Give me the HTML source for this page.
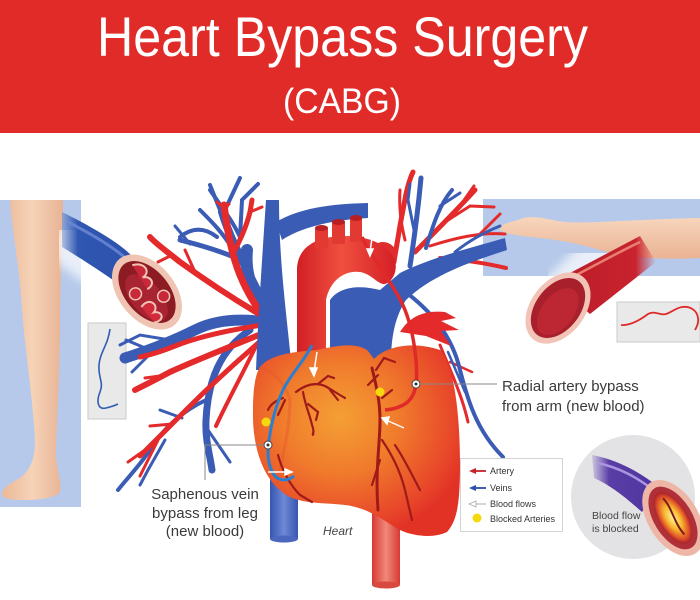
<!DOCTYPE html>
<html><head><meta charset="utf-8"><style>
html,body{margin:0;padding:0;background:#fff;}
svg{display:block;}
text{font-family:"Liberation Sans",sans-serif;}
</style></head><body>
<svg width="700" height="600" viewBox="0 0 700 600" xmlns="http://www.w3.org/2000/svg">
<defs>
<radialGradient id="heartG" cx="0.42" cy="0.38" r="0.65">
<stop offset="0" stop-color="#f4a034"/>
<stop offset="0.45" stop-color="#f07a2c"/>
<stop offset="0.85" stop-color="#e8472a"/>
<stop offset="1" stop-color="#e23226"/>
</radialGradient>
<linearGradient id="aortaG" x1="0" y1="0" x2="1" y2="0">
<stop offset="0" stop-color="#d21f25"/>
<stop offset="0.45" stop-color="#f0503f"/>
<stop offset="1" stop-color="#d41f26"/>
</linearGradient>
<linearGradient id="ivcG" x1="0" y1="0" x2="1" y2="0">
<stop offset="0" stop-color="#3555b0"/>
<stop offset="0.5" stop-color="#6f88d6"/>
<stop offset="1" stop-color="#3555b0"/>
</linearGradient>
<linearGradient id="daG" x1="0" y1="0" x2="1" y2="0">
<stop offset="0" stop-color="#d63a33"/>
<stop offset="0.5" stop-color="#f1897a"/>
<stop offset="1" stop-color="#d63a33"/>
</linearGradient>
<linearGradient id="legG" x1="0" y1="0" x2="1" y2="0">
<stop offset="0" stop-color="#ecb898"/>
<stop offset="0.5" stop-color="#f6d3b8"/>
<stop offset="1" stop-color="#e8b394"/>
</linearGradient>
<linearGradient id="armG" x1="0" y1="0" x2="0" y2="1">
<stop offset="0" stop-color="#f7d6bd"/>
<stop offset="1" stop-color="#eab293"/>
</linearGradient>
<linearGradient id="artTubeG" x1="0" y1="0" x2="1" y2="0">
<stop offset="0" stop-color="#b81c28"/>
<stop offset="0.8" stop-color="#c8232e"/>
<stop offset="1" stop-color="#c8232e" stop-opacity="0"/>
</linearGradient>
<linearGradient id="veinTubeG" x1="0" y1="0" x2="1" y2="0">
<stop offset="0" stop-color="#2f56b1" stop-opacity="0.3"/>
<stop offset="0.15" stop-color="#2f56b1"/>
<stop offset="1" stop-color="#2a4fa8"/>
</linearGradient>
<radialGradient id="blockG" cx="0.5" cy="0.5" r="0.5">
<stop offset="0" stop-color="#fff3a0"/>
<stop offset="0.45" stop-color="#f7b92e"/>
<stop offset="0.8" stop-color="#e2542a"/>
<stop offset="1" stop-color="#a8202a"/>
</radialGradient>
<linearGradient id="purpG" x1="0" y1="0" x2="1" y2="0">
<stop offset="0" stop-color="#6a4db5" stop-opacity="0.2"/>
<stop offset="0.25" stop-color="#5a3ea6"/>
<stop offset="1" stop-color="#4f34a0"/>
</linearGradient>
<filter id="blur3" x="-30%" y="-30%" width="160%" height="160%"><feGaussianBlur stdDeviation="5"/></filter>
</defs>

<!-- banner -->
<rect x="0" y="0" width="700" height="133" fill="#e12b29"/>
<text x="97" y="56" font-size="56" fill="#fff" textLength="491" lengthAdjust="spacingAndGlyphs">Heart Bypass Surgery</text>
<text x="283" y="113" font-size="35" fill="#fff" textLength="118" lengthAdjust="spacingAndGlyphs">(CABG)</text>

<!-- LEFT PANEL -->
<rect x="0" y="200" width="81" height="307" fill="#b6c9ea"/>
<path d="M10 200 L63 200 C62 250 60 290 60 320 C60 360 58 400 56 448 C55 465 62 480 60 492 C55 500 20 502 5 498 C-2 494 4 486 20 478 C30 470 35 460 35 440 C33 400 25 350 22 310 C20 270 12 230 10 200 Z" fill="url(#legG)"/>
<!-- vein tube -->
<path d="M80 245 L150 295" stroke="#fff" stroke-width="56" stroke-linecap="round" opacity="0.7" filter="url(#blur3)"/>
<path d="M62 212 C90 226 115 240 130 254 L170 318 C140 300 110 276 62 247 Z" fill="url(#veinTubeG)"/>
<path d="M68 222 C95 236 115 248 130 262" stroke="#6e8bd8" stroke-width="3" fill="none" opacity="0.8"/>
<g transform="translate(147,292) rotate(50)">
<ellipse rx="43" ry="28" fill="#f0c4b2"/>
<ellipse rx="36" ry="22" fill="#8c1b24"/>
<ellipse cx="4" cy="4" rx="28" ry="15" fill="#a92433"/>
<path d="M-30 -6 C-25 -18 -12 -16 -14 -6 C-10 -14 0 -12 -2 -2" stroke="#f0c4b2" stroke-width="2" fill="#c8283a"/>
<path d="M8 14 C4 2 18 -2 20 8 C24 0 34 4 28 14" stroke="#f0c4b2" stroke-width="2" fill="#d12a3a"/>
<circle cx="-6" cy="10" r="6" fill="#c8283a" stroke="#f0c4b2" stroke-width="1.5"/>
<circle cx="14" cy="-10" r="6" fill="#c8283a" stroke="#f0c4b2" stroke-width="1.5"/>
</g>
<rect x="88" y="323" width="38" height="96" fill="#e9e9e9" stroke="#cacaca"/>
<path d="M110 329 C108 345 100 352 99 365 C98 378 104 382 100 392 C96 402 98 410 106 408 C110 407 114 406 118 404" stroke="#2f5db5" stroke-width="1.6" fill="none"/>

<!-- RIGHT PANEL -->
<rect x="483" y="199" width="217" height="77" fill="#b6c9ea"/>
<path d="M500 227 C505 222 515 222 523 218 C535 215 550 220 565 222 C590 224 640 219 700 218 L700 258 C660 260 630 258 600 250 C580 244 560 240 540 238 C520 236 505 234 500 230 Z" fill="url(#armG)"/>
<path d="M600 265 L560 305" stroke="#fff" stroke-width="56" stroke-linecap="round" opacity="0.7" filter="url(#blur3)"/>
<path d="M553 282 L640 236 L656 262 L590 314 Z" fill="url(#artTubeG)"/>
<path d="M565 281 C590 268 615 254 640 242" stroke="#ec8878" stroke-width="2.5" fill="none" opacity="0.9"/>
<g transform="translate(558,308) rotate(-52)">
<ellipse rx="40" ry="27" fill="#f2c3b7"/>
<ellipse rx="34" ry="22" fill="#a8202b"/>
<ellipse cx="-3" cy="2" rx="27" ry="16" fill="#bd2733"/>
</g>
<rect x="617" y="302" width="83" height="40" fill="#e9e9e9" stroke="#cacaca"/>
<path d="M621 325 C630 326 640 320 648 314 C655 310 660 316 666 314 C672 312 676 308 682 307 C690 306 697 310 698 318 C699 324 696 328 695 330" stroke="#e02a2a" stroke-width="1.8" fill="none"/>

<!-- blocked circle -->
<circle cx="633" cy="497" r="62" fill="#e3e3e5"/>
<path d="M592 455 C618 460 640 472 660 488 L642 512 C626 498 612 486 594 478 Z" fill="url(#purpG)"/>
<path d="M598 463 C620 468 636 477 652 489" stroke="#a996e0" stroke-width="2.5" fill="none"/>
<g transform="translate(673,518) rotate(58)">
<ellipse rx="42" ry="25" fill="#eeb6a6"/>
<ellipse rx="35" ry="19" fill="#b0303a"/>
<ellipse rx="29" ry="14" fill="url(#blockG)"/>
<path d="M-22 -2 C-10 -5 5 2 20 -1" stroke="#7a1a1a" stroke-width="2" fill="none"/>
</g>
<text x="592" y="519" font-size="10.5" fill="#444">Blood flow</text>
<text x="592" y="532" font-size="10.5" fill="#444">is blocked</text>

<!-- LEFT TREE : blue -->
<g stroke="#3a5cb4" fill="none" stroke-linecap="round">
<path d="M262 300 C248 270 232 245 222 212" stroke-width="8"/>
<path d="M222 215 L210 185" stroke-width="4"/>
<path d="M224 212 L240 178" stroke-width="4"/>
<path d="M240 238 L242 200 L258 184" stroke-width="4"/>
<path d="M240 237 C232 220 225 212 210 190" stroke-width="4"/>
<path d="M232 248 C222 232 212 222 200 210" stroke-width="4"/>
<path d="M217 237 C208 230 195 225 180 237" stroke-width="4"/>
<path d="M245 262 C225 252 200 245 180 240" stroke-width="5"/>
<path d="M190 244 L175 226" stroke-width="3"/>
<path d="M265 322 C238 318 215 320 195 330 C175 340 150 350 125 358" stroke-width="11"/>
<path d="M150 350 L126 340" stroke-width="3"/>
<path d="M170 340 L140 335 L120 345" stroke-width="3"/>
<path d="M158 346 L132 372" stroke-width="3"/>
<path d="M250 330 C220 350 208 380 206 420 C205 440 210 455 212 470" stroke-width="7"/>
<path d="M206 400 C185 410 165 425 150 450 C140 465 130 475 118 490" stroke-width="4"/>
<path d="M182 418 L160 410" stroke-width="3"/>
<path d="M208 430 L230 462" stroke-width="3"/>
<path d="M165 440 L148 470 L140 485" stroke-width="3"/>
<path d="M258 300 C250 285 245 270 247 250" stroke-width="12"/>
</g>
<!-- LEFT TREE : red -->
<g stroke="#e42a2b" fill="none" stroke-linecap="round">
<path d="M268 322 C250 300 238 275 232 250 C228 235 226 220 224 205" stroke-width="7"/>
<path d="M224 208 L217 202" stroke-width="3"/>
<path d="M225 208 L229 204" stroke-width="3"/>
<path d="M234 252 C240 240 246 228 250 212 L252 200" stroke-width="5"/>
<path d="M250 212 L262 207" stroke-width="3"/>
<path d="M266 318 C235 300 205 280 180 262 C165 250 155 243 150 237" stroke-width="6"/>
<path d="M195 272 L185 250" stroke-width="3"/>
<path d="M172 255 L158 262" stroke-width="3"/>
<path d="M262 325 C230 330 200 336 175 346 C160 352 150 355 140 357" stroke-width="5"/>
<path d="M266 332 C232 346 196 360 170 372 C155 380 145 385 135 390" stroke-width="6"/>
<path d="M160 376 L145 378" stroke-width="3"/>
<path d="M264 338 C236 362 210 386 186 410 C170 426 156 440 140 456" stroke-width="5"/>
<path d="M172 424 L150 426" stroke-width="3"/>
<path d="M160 436 L140 476" stroke-width="3"/>
<path d="M145 450 L128 462" stroke-width="3"/>
<path d="M256 346 C242 375 228 400 216 426" stroke-width="4"/>
</g>

<!-- RIGHT TREE -->
<g stroke="#e42a2b" fill="none" stroke-linecap="round">
<path d="M394 262 C398 236 402 214 406 194 C408 185 410 178 413 172" stroke-width="5"/>
<path d="M405 240 C400 220 399 205 400 190" stroke-width="3"/>
<path d="M415 252 C435 232 455 212 475 190" stroke-width="5"/>
<path d="M445 222 L470 206 L494 207" stroke-width="3"/>
<path d="M460 206 L474 186" stroke-width="3"/>
<path d="M430 246 C455 238 480 232 505 234" stroke-width="3"/>
<path d="M480 234 L500 214" stroke-width="3"/>
<path d="M440 258 C465 260 485 263 506 268" stroke-width="4"/>
<path d="M440 345 C450 370 462 395 468 422" stroke-width="3"/>
<path d="M450 362 L472 372" stroke-width="2.5"/>
</g>
<g stroke="#3a5cb4" fill="none" stroke-linecap="round">
<path d="M410 266 C414 240 418 210 421 178" stroke-width="5"/>
<path d="M414 230 L408 200 L410 184" stroke-width="3"/>
<path d="M426 248 C434 222 440 204 452 190" stroke-width="4"/>
<path d="M440 206 L460 193" stroke-width="3"/>
<path d="M455 252 C470 240 485 232 500 226" stroke-width="3"/>
<path d="M403 290 C430 310 452 335 460 370 C468 400 476 430 503 457" stroke-width="4"/>
<path d="M448 352 L465 392" stroke-width="2.5"/>
</g>
<path d="M400 332 C410 316 425 310 445 312 L456 318 L441 321 L459 330 L441 331 L451 346 L426 336 Z" fill="#e42a2b"/>

<!-- pulmonary trunk & right branch -->
<path d="M330 362 L330 300 C340 286 360 285 380 290 L400 273 C430 258 470 248 505 238 L507 250 C470 262 432 275 406 300 C396 315 391 335 391 362 Z" fill="#3a5cb4"/>
<!-- SVC -->
<path d="M266 200 L279 200 C279 260 286 310 292 370 L256 370 C258 320 262 260 266 200 Z" fill="#3a5cb4"/>
<path d="M276 222 C300 208 330 204 368 203 L368 218 C330 220 300 228 282 240 Z" fill="#3a5cb4"/>

<!-- IVC & descending aorta below heart -->
<rect x="270" y="455" width="28" height="84" fill="url(#ivcG)"/>
<ellipse cx="284" cy="539" rx="14" ry="3.5" fill="#4b66bd"/>
<rect x="372" y="505" width="28" height="80" fill="url(#daG)"/>
<ellipse cx="386" cy="585" rx="14" ry="3.5" fill="#d84a3f"/>

<!-- aorta -->
<circle cx="383" cy="256" r="14" fill="#e12d2d"/>
<path d="M297 365 L297 270 C297 248 315 236 345 236 C368 236 388 244 395 260 C398 272 392 282 385 284 C378 285 372 274 360 272 C345 270 330 280 326 300 L326 365 Z" fill="url(#aortaG)"/>
<g fill="#e23a33">
<rect x="315" y="228" width="13" height="20"/><ellipse cx="321.5" cy="228" rx="6.5" ry="3" fill="#b81e22"/>
<rect x="332" y="222" width="13" height="22"/><ellipse cx="338.5" cy="222" rx="6.5" ry="3" fill="#b81e22"/>
<rect x="350" y="218" width="12" height="24"/><ellipse cx="356" cy="218" rx="6" ry="3" fill="#b81e22"/>
</g>

<!-- heart -->
<path d="M260 367 C270 355 290 352 317 350 C335 346 355 342 367 350 C372 355 373 360 375 358 C385 348 410 340 440 350 C455 365 460 420 460 463 C460 500 458 520 447 532 C435 538 415 537 400 530 C385 522 370 508 345 505 C320 502 295 505 280 490 C262 475 252 445 253 410 C253 390 255 375 260 367 Z" fill="url(#heartG)"/>
<path d="M262 368 C275 372 285 385 290 400 C290 430 282 460 276 485" stroke="#e6552a" stroke-width="3" fill="none" opacity="0.4"/>

<!-- coronary branches -->
<g stroke="#a11a1a" fill="none" stroke-linecap="round" stroke-width="2.2">
<path d="M296 392 C305 385 315 382 325 386 C332 390 338 394 345 398"/>
<path d="M318 384 L328 376 L334 378"/>
<path d="M330 390 L338 400"/>
<path d="M303 392 C305 405 310 415 312 425 C315 432 312 438 313 433"/>
<path d="M308 404 L318 412 L316 420"/>
<path d="M283 398 C276 400 270 405 268 410"/>
<path d="M285 400 L278 415"/>
<path d="M278 455 C282 470 290 485 300 495 L312 502"/>
<path d="M372 368 C376 385 380 400 380 420 C380 445 375 470 378 510" stroke-width="3"/>
<path d="M376 370 L384 358 L395 362"/>
<path d="M378 375 L368 385"/>
<path d="M382 440 C392 455 400 470 405 490 L412 520"/>
<path d="M395 445 C405 460 412 475 420 490"/>
<path d="M380 460 L372 485"/>
<path d="M382 398 L392 390"/>
</g>

<!-- bypass lines -->
<path d="M362 237 C372 260 395 285 405 310 C415 335 418 370 416 384 C414 400 405 408 385 410" stroke="#e02a2a" stroke-width="3.5" fill="none"/>
<path d="M312 345 C305 360 290 375 283 390 C277 403 272 418 269 440 C267 455 268 465 274 475 C280 482 288 481 294 476" stroke="#2a7fd0" stroke-width="3" fill="none"/>

<!-- white arrows -->
<g stroke="#fff" fill="#fff" stroke-width="1.5">
<line x1="317" y1="352" x2="314" y2="372"/><path d="M310 368 L314 376 L317 368 Z"/>
<line x1="372" y1="238" x2="370" y2="252"/><path d="M367 249 L370 256 L373 249 Z"/>
<line x1="404" y1="428" x2="386" y2="420"/><path d="M389 417 L382 418 L387 424 Z"/>
<line x1="268" y1="472" x2="288" y2="472"/><path d="M285 469 L292 472 L285 475 Z"/>
</g>

<!-- dots -->
<circle cx="380" cy="392" r="4.5" fill="#f5d90c"/>
<circle cx="266" cy="422" r="4.5" fill="#f5d90c"/>
<circle cx="416" cy="384" r="4" fill="#fff" stroke="#444" stroke-width="1"/><circle cx="416" cy="384" r="1.5" fill="#333"/>
<circle cx="268" cy="445" r="4" fill="#fff" stroke="#444" stroke-width="1"/><circle cx="268" cy="445" r="1.5" fill="#333"/>

<!-- leaders & labels -->
<path d="M420 384 L497 384" stroke="#888" stroke-width="1" fill="none"/>
<path d="M264 445 L205 445 L205 480" stroke="#888" stroke-width="1" fill="none"/>
<text x="502" y="391" font-size="15" fill="#3a3a3a">Radial artery bypass</text>
<text x="502" y="411" font-size="15" fill="#3a3a3a">from arm (new blood)</text>
<text x="205" y="499" font-size="15" fill="#3a3a3a" text-anchor="middle">Saphenous vein</text>
<text x="205" y="518" font-size="15" fill="#3a3a3a" text-anchor="middle">bypass from leg</text>
<text x="205" y="536" font-size="15" fill="#3a3a3a" text-anchor="middle">(new blood)</text>
<text x="323" y="535" font-size="12" font-style="italic" fill="#444">Heart</text>

<!-- legend -->
<rect x="460.5" y="458.5" width="102" height="73" fill="#fff" stroke="#d3d3d3"/>
<g font-size="9" fill="#333">
<text x="490" y="474">Artery</text>
<text x="490" y="491">Veins</text>
<text x="490" y="507">Blood flows</text>
<text x="490" y="522">Blocked Arteries</text>
</g>
<line x1="474" y1="471" x2="486" y2="471" stroke="#c4232a" stroke-width="1.8"/><path d="M469 471 L476 468 L476 474 Z" fill="#c4232a"/>
<line x1="474" y1="488" x2="486" y2="488" stroke="#2c4fa8" stroke-width="1.8"/><path d="M469 488 L476 485 L476 491 Z" fill="#2c4fa8"/>
<line x1="475" y1="504" x2="486" y2="504" stroke="#bbb" stroke-width="1.2"/><path d="M469 504 L476 501 L476 507 Z" fill="#fff" stroke="#aaa" stroke-width="0.8"/>
<circle cx="477" cy="518" r="4.5" fill="#f5d90c"/>
</svg>
</body></html>
